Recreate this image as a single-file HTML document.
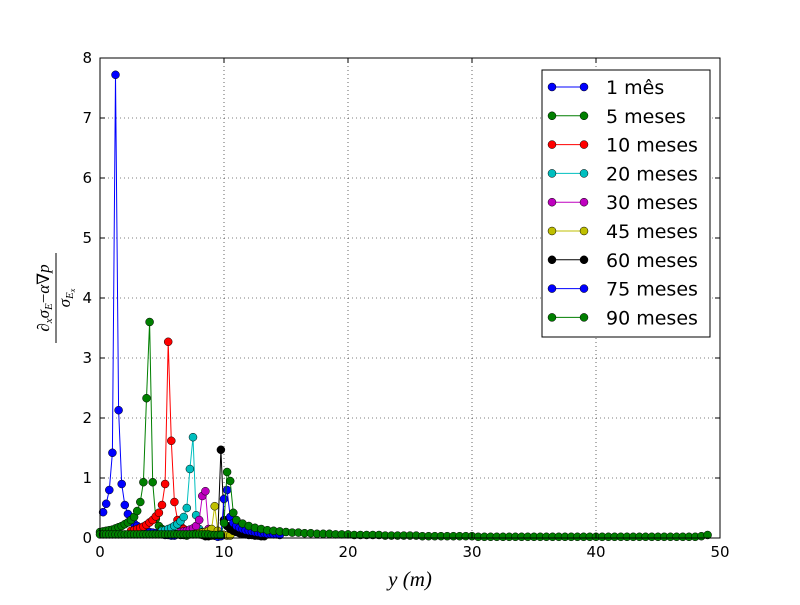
<!DOCTYPE html>
<html><head><meta charset="utf-8"><style>
body{margin:0;background:#fff}
svg text{font-family:"DejaVu Sans","Liberation Sans",sans-serif}
svg text.serif{font-family:"Liberation Serif","DejaVu Serif",serif}
</style></head><body>
<svg id="c" width="800" height="600" xmlns="http://www.w3.org/2000/svg"></svg>
<script>
const seriesNames=["1 mês","5 meses","10 meses","20 meses","30 meses","45 meses","60 meses","75 meses","90 meses"];
const seriesColors=["#0000ff","#007f00","#ff0000","#00bfbf","#bf00bf","#bfbf00","#000000","#0000ff","#007f00"];
const xTicks=[0,10,20,30,40,50];
const yTicks=[0,1,2,3,4,5,6,7,8];
const xStarts=[0.25,0,2.5,5.0,6.5,7.5,8.5,9.5,0];
const xStep=0.25;
const y1=[0.43,0.57,0.8,1.42,7.72,2.13,0.9,0.55,0.4,0.3,0.24,0.2,0.17,0.14,0.12,0.1,0.09,0.08,0.07,0.06,0.05,0.05,0.04,0.04];
const y5=[0.1,0.11,0.12,0.13,0.14,0.16,0.18,0.2,0.23,0.26,0.3,0.35,0.45,0.6,0.93,2.33,3.6,0.93,0.32,0.2,0.15,0.12,0.1,0.08,0.07,0.06,0.05,0.05,0.04];
const y10=[0.12,0.13,0.15,0.17,0.19,0.22,0.26,0.3,0.36,0.42,0.55,0.9,3.27,1.62,0.6,0.3,0.2,0.15,0.12,0.1,0.08,0.07,0.06,0.05];
const y20=[0.12,0.13,0.15,0.17,0.2,0.23,0.28,0.35,0.5,1.15,1.68,0.38,0.15,0.1,0.08,0.06,0.05,0.04];
const y30=[0.1,0.11,0.12,0.14,0.16,0.2,0.3,0.7,0.78,0.15,0.08,0.06,0.05,0.04];
const y45=[0.06,0.07,0.08,0.09,0.1,0.12,0.15,0.53,0.12,0.06,0.05,0.04,0.04];
const y60=[0.03,0.03,0.04,0.04,0.05,1.47,0.3,0.2,0.15,0.12,0.1,0.08,0.07,0.06,0.05,0.05,0.04,0.04,0.03,0.03];
const y75=[0.02,0.03,0.65,0.8,0.35,0.25,0.2,0.17,0.15,0.13,0.12,0.11,0.1,0.09,0.08,0.08,0.07,0.07,0.06,0.06,0.05];
const y90=[0.06,0.06,0.06,0.06,0.06,0.06,0.06,0.06,0.06,0.06,0.06,0.06,0.06,0.06,0.06,0.06,0.06,0.06,0.06,0.06,0.06,0.06,0.06,0.06,0.06,0.06,0.06,0.06,0.06,0.06,0.06,0.06,0.06,0.06,0.06,0.06,0.05,0.05,0.05,0.05,0.25,1.1,0.95,0.42,0.3];
const tailStart=11.5, tailStep=0.5;
const y90tail=[0.24,0.2,0.17,0.15,0.13,0.12,0.11,0.1,0.09,0.09,0.08,0.08,0.07,0.07,0.07,0.06,0.06,0.06,0.05,0.05,0.05,0.05,0.05,0.04,0.04,0.04,0.04,0.04,0.04,0.03,0.03,0.03,0.03,0.03,0.03,0.03,0.03,0.03,0.02,0.02,0.02,0.02,0.02,0.02,0.02,0.02,0.02,0.02,0.02,0.02,0.02,0.02,0.02,0.02,0.02,0.02,0.02,0.02,0.02,0.02,0.02,0.02,0.02,0.02,0.02,0.02,0.02,0.02,0.02,0.02,0.02,0.02,0.02,0.02,0.03,0.05];
const allY=[y1,y5,y10,y20,y30,y45,y60,y75,y90];

const L=100,R=720,T=58,B=538;
const xs=v=>L+(v-0)/(50-0)*(R-L);
const ys=v=>B-(v-0)/(8-0)*(B-T);
const svg=document.getElementById('c');
const NS="http://www.w3.org/2000/svg";
function mk(tag,at,parent){const e=document.createElementNS(NS,tag);for(const k in at)e.setAttribute(k,at[k]);(parent||svg).appendChild(e);return e;}

const grid=mk('g',{});


xTicks.forEach(t=>{mk('line',{x1:xs(t),x2:xs(t),y1:T,y2:B,stroke:'#000','stroke-width':0.6,'stroke-dasharray':'1,3'},grid);});
yTicks.forEach(t=>{mk('line',{x1:L,x2:R,y1:ys(t),y2:ys(t),stroke:'#000','stroke-width':0.6,'stroke-dasharray':'1,3'},grid);});

const plot=mk('g',{});


allY.forEach((arr,si)=>{
  const pts=arr.map((v,i)=>[xStarts[si]+i*xStep,v]);
  if(si===8) y90tail.forEach((v,i)=>pts.push([tailStart+i*tailStep,v]));
  const g=mk('g',{},plot);
  
  
  mk('polyline',{points:pts.map(p=>xs(p[0])+','+ys(p[1])).join(' '),fill:'none',stroke:seriesColors[si],'stroke-width':1},g);
  pts.forEach(p=>{
    const c=mk('circle',{cx:xs(p[0]),cy:ys(p[1]),r:4,fill:seriesColors[si],stroke:'#000','stroke-width':0.5},g);
    
    
  });
});

const fr=mk('rect',{x:L,y:T,width:R-L,height:B-T,fill:'none',stroke:'#000','stroke-width':1});



const xa=mk('g',{});


xTicks.forEach(t=>{
  mk('line',{x1:xs(t),x2:xs(t),y1:B,y2:B-5,stroke:'#000'},xa);
  mk('line',{x1:xs(t),x2:xs(t),y1:T,y2:T+5,stroke:'#000'},xa);
  const tx=mk('text',{x:xs(t),y:B+19,'text-anchor':'middle','font-size':15},xa);
  tx.textContent=t;
  
  
});
const ya=mk('g',{});


yTicks.forEach(t=>{
  mk('line',{x1:L,x2:L+5,y1:ys(t),y2:ys(t),stroke:'#000'},ya);
  mk('line',{x1:R,x2:R-5,y1:ys(t),y2:ys(t),stroke:'#000'},ya);
  const tx=mk('text',{x:L-8,y:ys(t)+5,'text-anchor':'end','font-size':15},ya);
  tx.textContent=t;
  
  
});

const lg=mk('g',{});


mk('rect',{x:542,y:70,width:168,height:267,fill:'#fff',stroke:'#000','stroke-width':1},lg);
seriesNames.forEach((n,i)=>{
  const y=87+i*28.8;
  const e=mk('g',{},lg);
  
  
  mk('line',{x1:552,x2:584,y1:y,y2:y,stroke:seriesColors[i]},e);
  mk('circle',{cx:552,cy:y,r:4,fill:seriesColors[i],stroke:'#000','stroke-width':0.5},e);
  mk('circle',{cx:584,cy:y,r:4,fill:seriesColors[i],stroke:'#000','stroke-width':0.5},e);
  const tx=mk('text',{x:606,y:y+7,'font-size':19},e);
  tx.textContent=n;
});

const yt=mk('g',{transform:'translate(0,298) rotate(-90)'});


const num=mk('text',{x:0,y:49,'text-anchor':'middle','font-size':17,'font-style':'italic','class':'serif'},yt);
num.innerHTML='∂<tspan font-size="11" dy="3">x</tspan><tspan dy="-3">σ</tspan><tspan font-size="11" dy="3">E</tspan><tspan dy="-3" font-style="normal">−</tspan>α∇p';
mk('line',{x1:-45,x2:45,y1:56,y2:56,stroke:'#000','stroke-width':1},yt);
const den=mk('text',{x:0,y:70,'text-anchor':'middle','font-size':17,'font-style':'italic','class':'serif'},yt);
den.innerHTML='σ<tspan font-size="11" dy="3">E</tspan><tspan font-size="8" dy="2">x</tspan>';

const xt=mk('text',{x:410,y:586,'text-anchor':'middle','font-size':21,'font-style':'italic','class':'serif'});


xt.textContent='y (m)';
</script>
</body></html>
